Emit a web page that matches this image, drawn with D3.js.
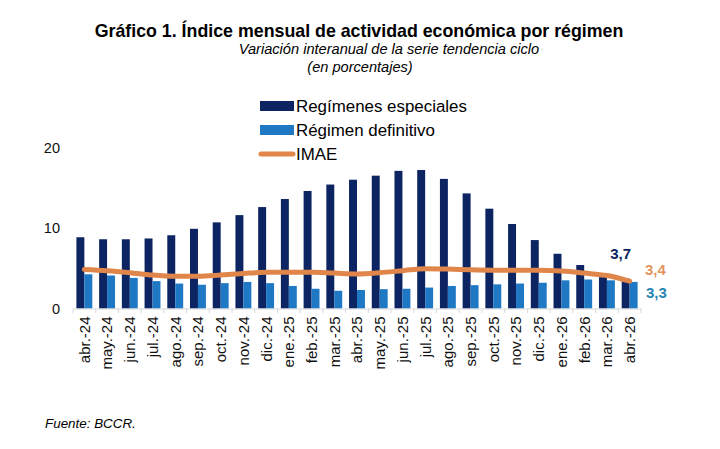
<!DOCTYPE html>
<html><head><meta charset="utf-8">
<script src="https://cdn.jsdelivr.net/npm/d3@7"></script>
<style>body{margin:0;background:#fff}svg{display:block}text{font-family:"Liberation Sans",Arial,sans-serif}</style>
</head><body>
<svg id="c" width="720" height="449"></svg>
<script>
const categories = ["abr.-24","may.-24","jun.-24","jul.-24","ago.-24","sep.-24","oct.-24","nov.-24","dic.-24","ene.-25","feb.-25","mar.-25","abr.-25","may.-25","jun.-25","jul.-25","ago.-25","sep.-25","oct.-25","nov.-25","dic.-25","ene.-26","feb.-26","mar.-26","abr.-26"];
const especiales = [8.85,8.6,8.6,8.7,9.1,9.9,10.7,11.6,12.6,13.6,14.6,15.4,16.0,16.5,17.1,17.2,16.1,14.3,12.4,10.5,8.5,6.8,5.4,3.9,3.7];
const definitivo = [4.25,4.1,3.8,3.4,3.1,2.95,3.15,3.3,3.15,2.8,2.45,2.2,2.3,2.4,2.45,2.6,2.8,2.9,3.0,3.1,3.2,3.5,3.6,3.5,3.3];
const imae = [4.85,4.7,4.45,4.15,4.0,4.0,4.15,4.35,4.5,4.5,4.5,4.4,4.3,4.45,4.7,4.95,4.9,4.8,4.75,4.75,4.75,4.65,4.4,4.1,3.4];
const yTicks = [0,10,20];
const seriesNames = ["Regímenes especiales","Régimen definitivo","IMAE"];
const colors = {esp:"#0c2461", def:"#1f78c4", imae:"#e0864a", imaeLabel:"#e2955e", defLabel:"#2a84b4"};

const svg = d3.select("#c");
const x = d3.scaleBand().domain(categories).range([73,641]).paddingInner(0.3).paddingOuter(0.15);
const y = d3.scaleLinear().domain([0,20]).range([308.5,147.5]);
const xs = d3.scaleBand().domain(["esp","def"]).range([0,x.bandwidth()]);
const fmt = v => d3.format(".1f")(v).replace(".",",");

// titles
svg.append("text").attr("x",359).attr("y",37).attr("text-anchor","middle").attr("font-size",17.8).attr("font-weight","bold").text("Gráfico 1. Índice mensual de actividad económica por régimen");
svg.append("text").attr("x",389).attr("y",54).attr("text-anchor","middle").attr("font-size",14.6).attr("font-style","italic").text("Variación interanual de la serie tendencia ciclo");
svg.append("text").attr("x",360).attr("y",72).attr("text-anchor","middle").attr("font-size",14.6).attr("font-style","italic").text("(en porcentajes)");

// legend
const lg = svg.append("g");
[0,1,2].forEach(i=>{
  const yy = [106,130,154][i];
  if(i<2){
    lg.append("rect").attr("x",260).attr("y",yy-5).attr("width",34).attr("height",10).attr("fill",i===0?colors.esp:colors.def);
  } else {
    lg.append("line").attr("x1",261).attr("x2",293).attr("y1",yy).attr("y2",yy).attr("stroke",colors.imae).attr("stroke-width",5).attr("stroke-linecap","round");
  }
  lg.append("text").attr("x",296).attr("y",yy+6).attr("font-size",16.9).text(seriesNames[i]);
});

// y axis labels
const ya = svg.append("g").attr("transform","translate(60,0)").call(d3.axisLeft(y).tickValues(yTicks).tickSize(0).tickPadding(0));
ya.select(".domain").remove();
ya.selectAll("text").attr("font-size",14.5).attr("fill","#111").attr("font-family","Liberation Sans, Arial, sans-serif");

// bars
const g = svg.append("g");
g.selectAll(".esp").data(especiales).join("rect").attr("x",(d,i)=>x(categories[i])+xs("esp")).attr("y",d=>y(d)).attr("width",xs.bandwidth()).attr("height",d=>y(0)-y(d)).attr("fill",colors.esp);
g.selectAll(".def").data(definitivo).join("rect").attr("x",(d,i)=>x(categories[i])+xs("def")).attr("y",d=>y(d)).attr("width",xs.bandwidth()).attr("height",d=>y(0)-y(d)).attr("fill",colors.def);

// x axis
const xa = svg.append("g").attr("transform","translate(0,308.5)").call(d3.axisBottom(x).tickSize(0).tickPadding(0));
xa.select(".domain").attr("stroke","#d8d8d8").attr("stroke-width",1);
xa.selectAll(".tick text").attr("font-size",15).attr("fill","#111").attr("font-family","Liberation Sans, Arial, sans-serif")
  .attr("transform","rotate(-90)").attr("text-anchor","end").attr("dx","-8").attr("dy","0.36em").attr("y",0).attr("x",0);
// separator ticks between categories
const step = x.step();
const seps = d3.range(categories.length+1).map(i=> x.range()[0] + i*step);
svg.append("g").selectAll("line").data(seps).join("line").attr("x1",d=>d).attr("x2",d=>d).attr("y1",308.5).attr("y2",313).attr("stroke","#d8d8d8");

// IMAE line
const cx = i => x(categories[i]) + x.bandwidth()/2;
const line = d3.line().x((d,i)=>cx(i)).y(d=>y(d)).curve(d3.curveMonotoneX);
svg.append("path").datum(imae).attr("d",line).attr("fill","none").attr("stroke",colors.imae).attr("stroke-width",5).attr("stroke-linecap","round");

// end labels
const last = categories.length-1;
svg.append("text").attr("x",cx(last)-9).attr("y",y(especiales[last])-20).attr("text-anchor","middle").attr("font-size",15).attr("font-weight","bold").attr("fill",colors.esp).text(fmt(especiales[last]));
svg.append("text").attr("x",645).attr("y",y(imae[last])-6).attr("font-size",15).attr("font-weight","bold").attr("fill",colors.imaeLabel).text(fmt(imae[last]));
svg.append("text").attr("x",646).attr("y",y(definitivo[last])+16).attr("font-size",15).attr("font-weight","bold").attr("fill",colors.defLabel).text(fmt(definitivo[last]));

// source
svg.append("text").attr("x",45).attr("y",428).attr("font-size",13.4).attr("font-style","italic").text("Fuente: BCCR.");
</script>
</body></html>
